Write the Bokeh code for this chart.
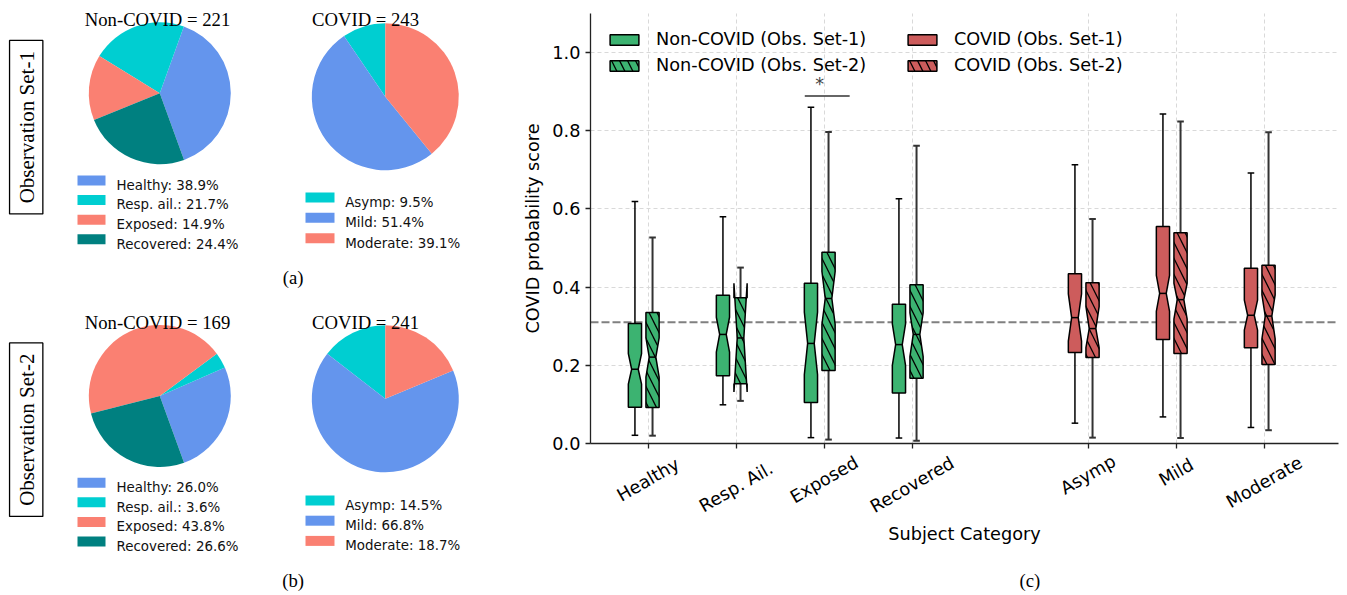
import numpy as np
from bokeh.plotting import figure
from bokeh.models import (Range1d, FixedTicker, PrintfTickFormatter, Legend, LegendItem,
                          LinearAxis, Grid)
from bokeh.embed import file_html
from bokeh.resources import INLINE
from bokeh.core.properties import value

# ---------------- pie data ----------------
nc_labels = ["Healthy", "Resp. ail.", "Exposed", "Recovered"]
c_labels = ["Asymp", "Mild", "Moderate"]
nc_set1_pct = [38.9, 21.7, 14.9, 24.4]
c_set1_pct = [9.5, 51.4, 39.1]
nc_set2_pct = [26.0, 3.6, 43.8, 26.6]
c_set2_pct = [14.5, 66.8, 18.7]
nc_totals = [221, 169]
c_totals = [243, 241]
nc_colors = ["#6495ed", "#00ced1", "#fa8072", "#008080"]
c_colors = ["#00ced1", "#6495ed", "#fa8072"]

# ---------------- box plot data ----------------
cats = ["Healthy", "Resp. Ail.", "Exposed", "Recovered", "Asymp", "Mild", "Moderate"]
cat_pos = [0, 1, 2, 3, 5, 6, 7]
# Observation set-1
wlo1 = [0.021, 0.099, 0.015, 0.014, 0.052, 0.068, 0.041]
q1_1 = [0.093, 0.173, 0.105, 0.129, 0.233, 0.266, 0.245]
med1 = [0.190, 0.279, 0.256, 0.253, 0.322, 0.384, 0.328]
q3_1 = [0.307, 0.379, 0.410, 0.356, 0.434, 0.555, 0.448]
whi1 = [0.619, 0.580, 0.860, 0.626, 0.713, 0.843, 0.692]
nlo1 = [0.152, 0.234, 0.176, 0.200, 0.262, 0.338, 0.290]
nhi1 = [0.230, 0.323, 0.336, 0.306, 0.383, 0.430, 0.367]
# Observation set-2
wlo2 = [0.020, 0.109, 0.010, 0.007, 0.015, 0.014, 0.034]
q1_2 = [0.092, 0.153, 0.187, 0.167, 0.220, 0.230, 0.202]
med2 = [0.221, 0.270, 0.371, 0.279, 0.294, 0.368, 0.326]
q3_2 = [0.335, 0.373, 0.489, 0.406, 0.411, 0.539, 0.456]
whi2 = [0.527, 0.450, 0.797, 0.762, 0.574, 0.824, 0.796]
nlo2 = [0.170, 0.132, 0.305, 0.222, 0.245, 0.318, 0.268]
nhi2 = [0.270, 0.410, 0.440, 0.334, 0.350, 0.410, 0.380]
threshold = 0.31
ytick_vals = [0.0, 0.2, 0.4, 0.6, 0.8, 1.0]
legend_labels = ["Non-COVID (Obs. Set-1)", "Non-COVID (Obs. Set-2)",
                 "COVID (Obs. Set-1)", "COVID (Obs. Set-2)"]
GREEN = "#3cb371"
RED = "#cd5c5c"

W, H = 1347, 595
FS = "17.7px"

# box-plot axes box on the page (pixels) and its data limits
AX_L, AX_R, AX_T, AX_B = 590, 1338, 13, 443
XMIN, XMAX = -0.655, 7.845
YMIN, YMAX = 0.0, 1.1
ux = (AX_R - AX_L) / (XMAX - XMIN)
uy = (AX_B - AX_T) / (YMAX - YMIN)


def Y(py):
    return H - py


p = figure(width=W, height=H, x_range=Range1d(0, W), y_range=Range1d(0, H),
           output_backend="svg", toolbar_location=None, min_border=0,
           x_axis_location=None, y_axis_location=None)
p.outline_line_color = None
p.grid.visible = False
p.extra_x_ranges = {"bx": Range1d(XMIN - AX_L / ux, XMAX + (W - AX_R) / ux)}
p.extra_y_ranges = {"by": Range1d(YMIN - (H - AX_B) / uy, YMAX + AX_T / uy)}
BX = dict(x_range_name="bx", y_range_name="by")

# ================= pies =================


def draw_pie(cx, cy, r, pcts, colors, start):
    tot = float(sum(pcts))
    a = start + 360.0 * np.cumsum([0.0] + list(pcts)) / tot
    p.wedge(x=cx, y=Y(cy), radius=r, start_angle=list(a[:-1]), end_angle=list(a[1:]),
            start_angle_units="deg", end_angle_units="deg", direction="anticlock",
            fill_color=colors, line_color=None)


def draw_pie_legend(x_sw, w_sw, x_txt, y0, step, labels, pcts, colors):
    ys = [Y(y0 + i * step) for i in range(len(labels))]
    p.rect(x=x_sw + w_sw / 2, y=ys, width=w_sw, height=10, fill_color=colors, line_color=None)
    p.text(x=x_txt, y=[y - 4.8 for y in ys],
           text=[f"{l}: {v:.1f}%" for l, v in zip(labels, pcts)],
           text_font=value("DejaVu Sans"), text_font_size="13.4px",
           text_baseline="alphabetic", text_align="left", text_color="#111111")


def serif_text(x, py, txt, baseline="alphabetic", size="18.7px"):
    p.text(x=x, y=Y(py), text=[txt], text_font=value("Liberation Serif"),
           text_font_size=size, text_align="center", text_baseline=baseline,
           text_color="black")


# set 1
draw_pie(159.3, 92.7, 71, nc_set1_pct, nc_colors, -70)
draw_pie(384.8, 96.2, 73.5, c_set1_pct, c_colors, 90)
draw_pie_legend(77, 28, 116, 180, 19.57, nc_labels, nc_set1_pct, nc_colors)
draw_pie_legend(305, 29, 344.7, 197, 20.35, c_labels, c_set1_pct, c_colors)
serif_text(157, 19, f"Non-COVID = {nc_totals[0]}")
serif_text(365, 19, f"COVID = {c_totals[0]}")
# set 2
draw_pie(159.3, 395.5, 71, nc_set2_pct, nc_colors, -70)
draw_pie(384.8, 398.3, 73.5, c_set2_pct, c_colors, 90)
draw_pie_legend(77, 28, 116, 482.3, 19.57, nc_labels, nc_set2_pct, nc_colors)
draw_pie_legend(305, 29, 344.7, 500, 20.2, c_labels, c_set2_pct, c_colors)
serif_text(157, 321.5, f"Non-COVID = {nc_totals[1]}")
serif_text(365, 321.5, f"COVID = {c_totals[1]}")

# side boxes
for cy, txt in [(126.7, "Observation Set-1"), (429.2, "Observation Set-2")]:
    p.rect(x=25.7, y=Y(cy), width=33.3, height=173.5, fill_color=None,
           line_color="black", line_width=1.3)
    p.text(x=26.5, y=Y(cy), text=[txt], angle=90, angle_units="deg",
           text_font=value("Liberation Serif"), text_font_size="21px",
           text_align="center", text_baseline="middle", text_color="black")

serif_text(292.7, 276.7, "(a)", baseline="middle")
serif_text(292.7, 580, "(b)", baseline="middle")
serif_text(1029.3, 580, "(c)", baseline="middle")

# ================= box plot =================
xgrid = Grid(dimension=0, ticker=FixedTicker(ticks=cat_pos), cross_bounds=(YMIN, YMAX), **BX)
ygrid = Grid(dimension=1, ticker=FixedTicker(ticks=ytick_vals), cross_bounds=(XMIN, XMAX), **BX)
for g in (xgrid, ygrid):
    g.grid_line_color = "#d9d9d9"
    g.grid_line_dash = "4 3"
    g.grid_line_width = 1
    p.add_layout(g)

xax = LinearAxis(fixed_location=YMIN, bounds=(XMIN, XMAX), ticker=FixedTicker(ticks=cat_pos),
                 axis_label="Subject Category", axis_label_standoff=75, **BX)
xax.major_label_text_color = None
yax = LinearAxis(fixed_location=XMIN, bounds=(YMIN, YMAX), ticker=FixedTicker(ticks=ytick_vals),
                 formatter=PrintfTickFormatter(format="%.1f"),
                 axis_label="COVID probability score", major_label_standoff=5,
                 axis_label_standoff=6, **BX)
yax.major_label_text_font_size = FS
yax.major_label_text_font = "DejaVu Sans"
yax.major_label_text_color = "black"
for ax in (xax, yax):
    ax.axis_line_color = "#222222"
    ax.axis_line_width = 1.3
    ax.major_tick_line_color = "#222222"
    ax.major_tick_line_width = 1.3
    ax.major_tick_out = 5
    ax.major_tick_in = 0
    ax.minor_tick_out = 0
    ax.minor_tick_in = 0
    ax.axis_label_text_font = "DejaVu Sans"
    ax.axis_label_text_font_style = "normal"
    ax.axis_label_text_font_size = FS
    ax.axis_label_text_color = "black"
p.add_layout(xax, "below")
p.add_layout(yax, "left")

# mean threshold line
p.segment(x0=[XMIN], x1=[XMAX], y0=[threshold], y1=[threshold], line_color="#808080",
          line_width=2, line_dash="8 3", **BX)

BW = 0.15


def box_paths(centers, q1, med, q3, nlo, nhi):
    xs, ys = [], []
    for c, a, m, b, lo, hi in zip(centers, q1, med, q3, nlo, nhi):
        L, R = c - BW / 2, c + BW / 2
        cl, cr = c - BW / 4, c + BW / 4
        xs.append([L, R, R, cr, R, R, L, L, cl, L, L])
        ys.append([a, a, lo, m, hi, b, b, hi, m, lo, a])
    return xs, ys


def draw_set(offset, wlo, q1, med, q3, whi, nlo, nhi, hatch, wcolor, wwidth):
    rends = []
    for idx, color in [(slice(0, 4), GREEN), (slice(4, 7), RED)]:
        centers = [c + offset for c in cat_pos[idx]]
        xs, ys = box_paths(centers, q1[idx], med[idx], q3[idx], nlo[idx], nhi[idx])
        p.segment(x0=centers, x1=centers, y0=q3[idx], y1=whi[idx], line_color=wcolor,
                  line_width=wwidth, **BX)
        p.segment(x0=centers, x1=centers, y0=q1[idx], y1=wlo[idx], line_color=wcolor,
                  line_width=wwidth, **BX)
        cx0 = [c - BW / 4 for c in centers]
        cx1 = [c + BW / 4 for c in centers]
        p.segment(x0=cx0, x1=cx1, y0=whi[idx], y1=whi[idx], line_color=wcolor, line_width=wwidth, **BX)
        p.segment(x0=cx0, x1=cx1, y0=wlo[idx], y1=wlo[idx], line_color=wcolor, line_width=wwidth, **BX)
        kw = {}
        if hatch:
            kw = dict(hatch_pattern="left_diagonal_line", hatch_color="black",
                      hatch_weight=1.3, hatch_scale=16)
        r = p.patches(xs=xs, ys=ys, fill_color=color, line_color="black", line_width=1.5, **kw, **BX)
        p.segment(x0=cx0, x1=cx1, y0=med[idx], y1=med[idx], line_color="black", line_width=1.5, **BX)
        rends.append(r)
    return rends


g1, r1 = draw_set(-0.15, wlo1, q1_1, med1, q3_1, whi1, nlo1, nhi1, False, "black", 1.5)
g2, r2 = draw_set(0.05, wlo2, q1_2, med2, q3_2, whi2, nlo2, nhi2, True, "#333333", 2)

# significance marker
p.segment(x0=[1.78], x1=[2.29], y0=[0.889], y1=[0.889], line_color="#333333", line_width=1.3, **BX)
p.text(x=[1.95], y=[0.893], text=["*"], text_font=value("DejaVu Sans"), text_font_size=FS,
       text_align="center", text_baseline="bottom", text_color="#444444", **BX)

# legends
for items, loc in [([(legend_labels[0], g1), (legend_labels[1], g2)], (AX_L + 16, H - 75)),
                   ([(legend_labels[2], r1), (legend_labels[3], r2)], (AX_L + 314, H - 75))]:
    leg = Legend(items=[LegendItem(label=l, renderers=[rr]) for l, rr in items], location=loc,
                 glyph_width=36, glyph_height=13, label_standoff=14, padding=0, spacing=6,
                 border_line_alpha=0, background_fill_alpha=0,
                 label_text_font="DejaVu Sans", label_text_font_size=FS, label_text_color="black")
    p.add_layout(leg)

# rotated category labels, centred under their ticks
offs = [10 + (0.56 * 17.7 * len(n) * 0.5 + 20.5 * 0.866) / 2 for n in cats]
p.text(x=cat_pos, y=[YMIN] * len(cats), y_offset=offs, text=cats, angle=30, angle_units="deg",
       text_align="center", text_baseline="middle", text_font=value("DejaVu Sans"),
       text_font_size=FS, text_color="black", **BX)

open("out.html", "w").write(file_html(p, INLINE))
